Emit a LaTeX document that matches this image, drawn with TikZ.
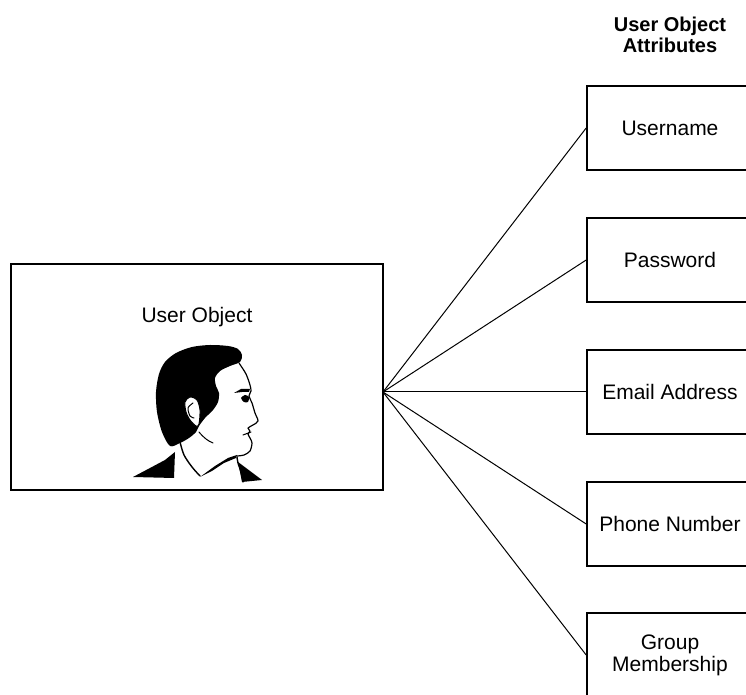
\documentclass[tikz,border=0pt]{standalone}
\usepackage{fontspec}
\setmainfont{Liberation Sans}
\usetikzlibrary{positioning}

\begin{document}
\begin{tikzpicture}[
    x=0.5pt, y=-0.5pt,
    attr/.style={rectangle, draw, line width=0.8pt, minimum width=83pt, minimum height=42pt, align=center, font=\fontsize{10.5}{11}\selectfont},
    link/.style={line width=0.5pt},
    sketch/.style={line width=0.5pt, line join=round, line cap=round}
  ]
  \useasboundingbox (0,0) rectangle (746,695);
  \clip (0,0) rectangle (746,695);

  \node[draw, line width=0.8pt, minimum width=186pt, minimum height=113pt] (user) at (197,377) {};
  \node[font=\fontsize{10.5}{12}\selectfont] (usertitle) at (197,317) {User Object};

  \node[font=\bfseries\fontsize{10}{10.5}\selectfont, align=center] (header) at (670,35) {User Object\\Attributes};

  \node[attr] (uname) at (670,128) {Username};
  \node[attr] (pwd) at (670,260) {Password};
  \node[attr] (email) at (670,392) {Email Address};
  \node[attr] (phone) at (670,524) {Phone Number};
  \node[attr] (group) at (670,655) {Group\\Membership};

  \coordinate (hub) at (383,392);
  \foreach \n in {uname,pwd,email,phone,group}
    \draw[link] (hub) -- (\n.west);

  % head in profile
  \fill plot[smooth cycle] coordinates {
    (170,446) (162,432) (157,412) (156,392) (159,374) (165,362) (176,353)
    (192,347) (210,345) (228,346) (238,349) (242,355) (240,362) (230,366)
    (220,371) (215,378) (216,386) (219,393) (218,402) (213,410) (205,418)
    (199,426) (196,432) (189,438) (180,443)};
  \draw[sketch, line width=0.6pt] plot[smooth] coordinates {
    (239,363) (246,374) (250,385) (251,391) (249,396) (252,403) (255,413)
    (258,421) (253,425) (248,428) (250,431) (248,434) (250,438) (252,443)
    (250,451) (244,455) (237,456)};
  % ear
  \draw[sketch, fill=white] plot[smooth cycle] coordinates {
    (199,424) (200,410) (197,400) (190,397) (185,402) (186,412) (190,420) (196,426)};
  \draw[sketch] plot[smooth] coordinates {(193,403) (188,408) (190,416) (194,418)};
  % brow, eye, mouth, jaw
  \fill (234,393) -- (241,389) -- (250,389) -- (249,392) -- (242,392) -- cycle;
  \fill plot[smooth cycle] coordinates {(241,398) (245,395) (249,397) (248,402) (244,402)};
  \draw[sketch] (243,435) -- (251,432);
  \draw[sketch] (199,432) .. controls (204,438) and (208,441) .. (213,443);
  % neck and collar
  \draw[sketch, line width=0.7pt] plot[smooth] coordinates {(180,442) (184,455) (192,467) (200,476)};
  \fill (200,477) -- (215,466) -- (228,458) -- (237,455) -- (236,458) -- (224,463) -- (212,471) -- cycle;
  \draw[sketch, line width=0.7pt] plot[smooth] coordinates {(237,457) (238,463) (241,472) (243,482)};
  \fill (238,462) -- (262,480) -- (242,482) -- cycle;
  \fill (133,477) -- (150,468) -- (165,460) -- (175,452) -- (174,478) -- cycle;
\end{tikzpicture}
\end{document}
